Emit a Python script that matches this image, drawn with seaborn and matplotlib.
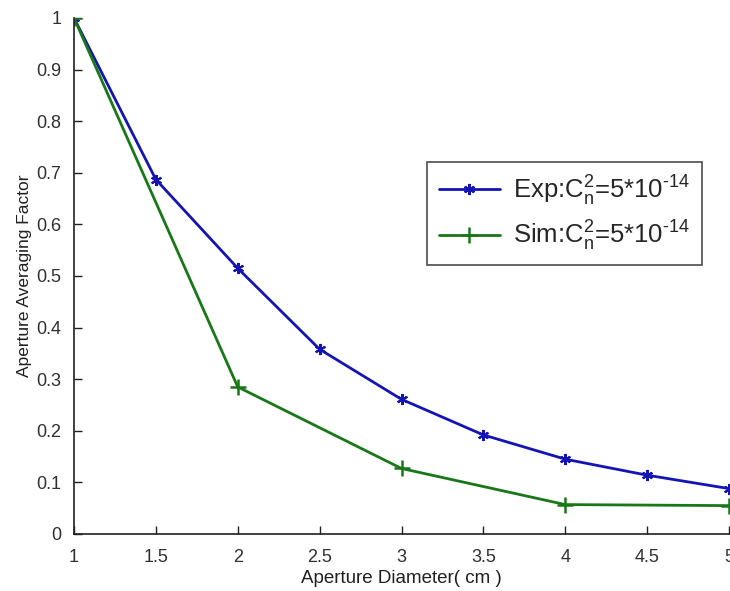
import matplotlib
matplotlib.use("Agg")
import matplotlib.pyplot as plt
import seaborn as sns
import pandas as pd

# Aperture averaging factor versus aperture diameter
exp_diameter = [1.0, 1.5, 2.0, 2.5, 3.0, 3.5, 4.0, 4.5, 5.0]
exp_factor = [1.0, 0.687, 0.515, 0.358, 0.261, 0.192, 0.145, 0.114, 0.088]

sim_diameter = [1.0, 2.0, 3.0, 4.0, 5.0]
sim_factor = [1.0, 0.285, 0.127, 0.057, 0.055]

exp_label = "Exp:C$_{\\rm n}^{2}$=5*10$^{\u2010\\rm 14}$"
sim_label = "Sim:C$_{\\rm n}^{2}$=5*10$^{\u2010\\rm 14}$"

x_ticks = [1, 1.5, 2, 2.5, 3, 3.5, 4, 4.5, 5]
x_tick_labels = ["1", "1.5", "2", "2.5", "3", "3.5", "4", "4.5", "5"]
y_ticks = [0, 0.1, 0.2, 0.3, 0.4, 0.5, 0.6, 0.7, 0.8, 0.9, 1]
y_tick_labels = ["0", "0.1", "0.2", "0.3", "0.4", "0.5", "0.6", "0.7", "0.8", "0.9", "1"]

sns.set_style("white")
plt.rcParams["font.family"] = ["Liberation Sans", "DejaVu Sans"]
plt.rcParams["mathtext.fontset"] = "custom"
plt.rcParams["mathtext.rm"] = "Liberation Sans"
plt.rcParams["mathtext.it"] = "Liberation Sans:italic"
plt.rcParams["mathtext.bf"] = "Liberation Sans:bold"

exp_df = pd.DataFrame({"d": exp_diameter, "f": exp_factor})
sim_df = pd.DataFrame({"d": sim_diameter, "f": sim_factor})

fig = plt.figure(figsize=(7.30, 5.91), dpi=100)
W, H = 730, 591
ax = fig.add_axes([74 / W, (H - 534) / H, (729 - 74) / W, (534 - 18) / H])

blue = "#1414b4"
green = "#187818"

sns.lineplot(data=exp_df, x="d", y="f", ax=ax, color=blue, lw=2.0,
             marker=(6, 2, 0), markersize=8, markeredgewidth=1.5,
             markeredgecolor=blue, label=exp_label)
sns.lineplot(data=sim_df, x="d", y="f", ax=ax, color=green, lw=2.0,
             marker="+", markersize=11, markeredgewidth=1.8,
             markeredgecolor=green, label=sim_label)

ax.set_xlim(1, 5)
ax.set_ylim(0, 1)
ax.set_xticks(x_ticks)
ax.set_xticklabels(x_tick_labels)
ax.set_yticks(y_ticks)
ax.set_yticklabels(y_tick_labels)

for side in ("top", "right"):
    ax.spines[side].set_visible(False)
for side in ("left", "bottom"):
    ax.spines[side].set_color("#202020")
    ax.spines[side].set_linewidth(1.2)

ax.tick_params(axis="both", direction="in", length=6, width=1.0,
               colors="#202020", labelsize=13, labelcolor="#303030",
               left=True, bottom=True)
ax.tick_params(axis="x", pad=11)
ax.tick_params(axis="y", pad=9)

ax.set_xlabel("Aperture Diameter( cm )", fontsize=13.5, color="#202020", labelpad=3)
ax.set_ylabel("Aperture Averaging Factor", fontsize=12.5, color="#202020", labelpad=3)

leg = ax.legend(loc="upper left", bbox_to_anchor=(0.539, 0.721),
                borderaxespad=0, fontsize=18.5, frameon=True, fancybox=False,
                handlelength=2.4, handletextpad=0.5, borderpad=0.45,
                labelspacing=0.45)
leg.get_frame().set_edgecolor("#202020")
leg.get_frame().set_linewidth(1.2)

fig.savefig("out.png", dpi=100, facecolor="white")
